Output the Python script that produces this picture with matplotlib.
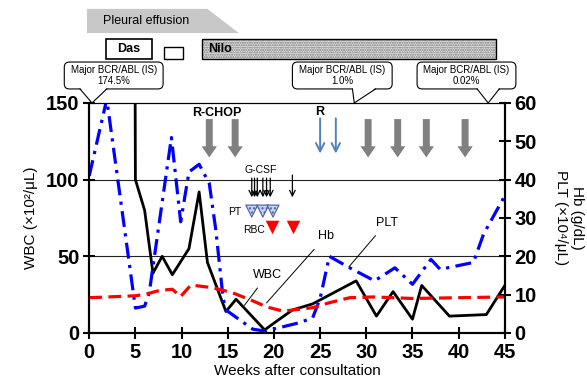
import matplotlib
matplotlib.use("Agg")
import matplotlib.pyplot as plt
import matplotlib.transforms as mtransforms
from matplotlib.patches import FancyBboxPatch, Polygon, Rectangle

plt.rcParams['font.family'] = ['Liberation Sans', 'DejaVu Sans']

## blood counts (weeks after consultation)
wbc_weeks = [4.95, 5.0, 6.0, 6.9, 7.9, 9.0, 10.8, 11.9, 12.8, 14.8, 15.9, 19.0, 19.9,
             22.0, 24.2, 28.9, 31.1, 32.9, 35.0, 36.0, 39.0, 43.0, 45.0]
wbc = [200, 100, 80, 39, 50, 38, 55, 92, 46, 14, 22, 2, 6,
       15, 19, 34, 11, 27, 9, 31, 11, 12, 31]

plt_weeks = [0, 1.9, 5.0, 6.0, 6.5, 8.9, 9.9, 10.8, 11.9, 13.0, 13.7, 14.5, 14.8, 17.7,
             19.0, 20.6, 22.8, 24.2, 25.0, 26.0, 28.2, 30.9, 33.1, 35.0, 37.0, 38.0,
             41.6, 42.7, 45.0]
plt_vals = [41, 61, 6.5, 7, 10.5, 51, 29, 42, 44, 39, 27, 9, 6, 1,
            0.5, 1.4, 2.7, 4, 9, 20, 17, 13.6, 17, 12.7, 19.2, 16.6,
            18.4, 25.8, 35.8]

hb_weeks = [0, 5, 6.1, 7.6, 9, 9.9, 11, 13.4, 15.5, 17.7, 19.2, 21, 24.2, 26, 28.2,
            30.8, 35, 45]
hb = [9.2, 9.7, 10.1, 11.1, 11.4, 9.5, 12.5, 11.8, 10.5, 8.4, 6.8, 5.7, 6.6, 7.9, 9.2,
      9.4, 9.0, 9.4]

## treatments
rchop_weeks = [13.0, 15.8, 30.2, 33.4, 36.5, 40.7]
r_weeks = [25.0, 26.7]
gcsf_weeks = [17.6, 17.9, 18.2, 18.8, 19.2, 19.6, 22.0]
pt_weeks = [17.6, 18.8, 19.9]
rbc_weeks = [19.8, 22.1]

# callouts: (box left, box right, pointer base left, tip, base right, text)
callouts = [(-2.7, 8.0, -1.0, 0.3, 1.9, "Major BCR/ABL (IS)\n174.5%"),
            (22.0, 32.8, 28.5, 28.7, 31.0, "Major BCR/ABL (IS)\n1.0%"),
            (35.5, 46.2, 42.0, 43.2, 44.4, "Major BCR/ABL (IS)\n0.02%")]

fig = plt.figure(figsize=(5.87, 3.88), dpi=100)
ax = fig.add_axes([0.152, 0.1418, 0.708, 0.5928])
ax2 = ax.twinx()

ax.plot(wbc_weeks, wbc, color='black', lw=2.0, zorder=3)
ax2.plot(plt_weeks, plt_vals, color='#0000ff', lw=2.3, dashes=(5, 2, 1, 2))
ax2.plot(hb_weeks, hb, color='#ff0000', lw=2.3, dashes=(4, 2))

ax.set_xlim(0, 45)
ax.set_ylim(0, 150)
ax2.set_ylim(0, 60)
ax.set_xticks(range(0, 46, 5))
ax.set_yticks([0, 50, 100, 150])
ax2.set_yticks(range(0, 61, 10))
for a in (ax, ax2):
    a.tick_params(direction='inout', length=8, width=1.5, labelsize=14.5, pad=3)
    for lab in a.get_xticklabels() + a.get_yticklabels():
        lab.set_fontweight('bold')
    for s in ('left', 'right', 'bottom'):
        a.spines[s].set_linewidth(1.5)
    a.spines['top'].set_linewidth(0.8)
for y in (50, 100):
    ax.axhline(y, color='#222222', lw=0.8, zorder=1)

ax.set_xlabel("Weeks after consultation", fontsize=11, labelpad=2)
ax.set_ylabel("WBC (×10²/μL)", fontsize=11, labelpad=6)
ax2.set_ylabel("Hb (g/dL)\nPLT (×10⁴/μL)", fontsize=11, rotation=270, labelpad=34)

## things above the plot
trans = mtransforms.blended_transform_factory(ax.transData, ax.transAxes)
aspect = (ax.bbox.width / 45) / ax.bbox.height

pe = Polygon([(-0.25, 1.409), (12.8, 1.409), (16.2, 1.304), (-0.25, 1.304)], closed=True,
             transform=trans, fc='#c8c8c8', ec='none', clip_on=False)
ax.add_patch(pe)
ax.text(6.2, 1.358, "Pleural effusion", transform=trans, ha='center', va='center', fontsize=9)

ax.add_patch(Rectangle((1.8, 1.191), 5.0, 0.087, transform=trans, fc='white', ec='black',
                       lw=1.2, clip_on=False))
ax.text(4.3, 1.234, "Das", transform=trans, ha='center', va='center', fontsize=9,
        fontweight='bold')
ax.add_patch(Rectangle((8.1, 1.191), 2.0, 0.052, transform=trans, fc='white', ec='black',
                       lw=1.0, clip_on=False))
ax.add_patch(Rectangle((12.2, 1.191), 31.8, 0.087, transform=trans, fc='#e4e4e4',
                       ec='#777777', hatch='.......', lw=0, clip_on=False))
ax.add_patch(Rectangle((12.2, 1.191), 31.8, 0.087, transform=trans, fc='none', ec='black',
                       lw=1.0, clip_on=False))
ax.text(12.9, 1.234, "Nilo", transform=trans, ha='left', va='center', fontsize=9,
        fontweight='bold')

for x0, x1, b0, tip, b1, txt in callouts:
    ax.add_patch(FancyBboxPatch((x0, 1.061), x1 - x0, 0.117,
                                boxstyle='round,pad=0,rounding_size=0.55',
                                mutation_aspect=aspect, transform=trans, fc='white',
                                ec='black', lw=0.8, clip_on=False, zorder=4))
    ax.add_patch(Polygon([(b0, 1.066), (tip, 1.0), (b1, 1.066)], closed=True,
                         transform=trans, fc='white', ec='none', clip_on=False, zorder=5))
    ax.plot([b0, tip, b1], [1.061, 1.0, 1.061], transform=trans, color='black', lw=0.8,
            clip_on=False, zorder=6)
    ax.text((x0 + x1) / 2, 1.12, txt, transform=trans, ha='center', va='center',
            fontsize=7, linespacing=1.1, zorder=7)

## treatment arrows
ax.text(13.8, 143.5, "R-CHOP", ha='center', va='center', fontsize=9, fontweight='bold')
for w in rchop_weeks:
    ax.annotate('', xy=(w, 114.5), xytext=(w, 139.5),
                arrowprops=dict(arrowstyle='simple,head_width=1.1,head_length=0.8,tail_width=0.5',
                                fc='#808080', ec='none', shrinkA=0, shrinkB=0))
ax.text(24.9, 144, "R", ha='center', va='center', fontsize=9, fontweight='bold')
for w in r_weeks:
    ax.annotate('', xy=(w, 117), xytext=(w, 140),
                arrowprops=dict(arrowstyle='->,head_length=0.6,head_width=0.3',
                                color='#4f81bd', lw=1.4, shrinkA=0, shrinkB=0))
ax.text(18.6, 106, "G-CSF", ha='center', va='center', fontsize=7.5)
for i, w in enumerate(gcsf_weeks):
    top = 103 if i == len(gcsf_weeks) - 1 else 101
    ax.annotate('', xy=(w, 88.5), xytext=(w, top),
                arrowprops=dict(arrowstyle='->,head_length=0.4,head_width=0.2',
                                color='black', lw=0.9, shrinkA=0, shrinkB=0))
ax.text(15.8, 79, "PT", ha='center', va='center', fontsize=7.5)
ax.scatter(pt_weeks, [79.5] * len(pt_weeks), marker='v', s=75, fc='#c8d0f0', ec='#4b5fa5',
           hatch='....', lw=0.8, zorder=4, clip_on=False)
ax.text(17.9, 67, "RBC", ha='center', va='center', fontsize=7.5)
ax.scatter(rbc_weeks, [69] * len(rbc_weeks), marker='v', s=95, color='#ff0000', lw=0,
           zorder=4)

## series labels
ax.annotate("Hb", xy=(19.2, 19.6), xytext=(25.6, 63), ha='center', va='center', fontsize=9,
            arrowprops=dict(arrowstyle='-', lw=0.7, color='black', shrinkA=4, shrinkB=0))
ax.annotate("WBC", xy=(16.8, 18), xytext=(19.3, 38), ha='center', va='center', fontsize=9,
            arrowprops=dict(arrowstyle='-', lw=0.7, color='black', shrinkA=4, shrinkB=0))
ax.annotate("PLT", xy=(28.1, 43), xytext=(32.2, 72), ha='center', va='center', fontsize=9,
            arrowprops=dict(arrowstyle='-', lw=0.7, color='black', shrinkA=4, shrinkB=0))

fig.savefig("out.png", dpi=100)
